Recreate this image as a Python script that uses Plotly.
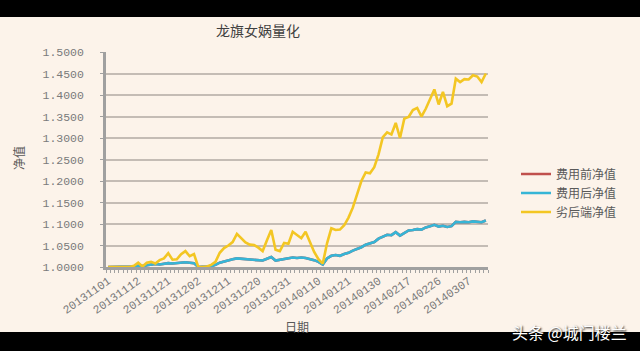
import plotly.graph_objects as go

dates = (
    ["201311%02d" % d for d in [1,4,5,6,7,8,11,12,13,14,15,18,19,20,21,22,25,26,27,28,29]]
    + ["201312%02d" % d for d in [2,3,4,5,6,9,10,11,12,13,16,17,18,19,20,23,24,25,26,27,30,31]]
    + ["201401%02d" % d for d in [2,3,6,7,8,9,10,13,14,15,16,17,20,21,22,23,24,27,28,29,30]]
    + ["201402%02d" % d for d in [7,10,11,12,13,14,17,18,19,20,21,24,25,26,27,28]]
    + ["201403%02d" % d for d in [3,4,5,6,7,10,11,12,13]]
)

after_fee = [
    1.000, 1.000, 1.000, 1.000, 1.000, 1.000, 1.001, 1.003, 1.002, 1.004,
    1.006, 1.007, 1.006, 1.008, 1.009, 1.008, 1.009, 1.010, 1.011, 1.010,
    1.009, 1.000, 1.000, 1.001, 1.002, 1.005, 1.010, 1.013, 1.015, 1.018,
    1.020, 1.019, 1.018, 1.018, 1.017, 1.016, 1.015, 1.019, 1.023, 1.015,
    1.017, 1.019, 1.020, 1.022, 1.021, 1.022, 1.021, 1.019, 1.016, 1.012,
    1.006, 1.020, 1.026, 1.028, 1.026, 1.030, 1.033, 1.038, 1.042, 1.046,
    1.052, 1.055, 1.058, 1.066, 1.071, 1.075, 1.074, 1.081, 1.073, 1.080,
    1.085, 1.086, 1.088, 1.087, 1.092, 1.095, 1.098, 1.094, 1.096, 1.093,
    1.095, 1.105, 1.104, 1.105, 1.104, 1.106, 1.105, 1.104, 1.108,
]
before_fee = list(after_fee)

junior = [
    1.000, 1.000, 1.000, 1.000, 1.000, 1.000, 1.003, 1.010, 1.001, 1.010,
    1.012, 1.008, 1.016, 1.020, 1.032, 1.017, 1.018, 1.030, 1.037, 1.025,
    1.030, 1.000, 1.000, 1.001, 1.005, 1.012, 1.033, 1.044, 1.050, 1.058,
    1.077, 1.066, 1.057, 1.052, 1.051, 1.045, 1.037, 1.062, 1.086, 1.040,
    1.037, 1.056, 1.054, 1.082, 1.075, 1.067, 1.082, 1.060, 1.035, 1.018,
    1.008, 1.055, 1.090, 1.086, 1.087, 1.097, 1.115, 1.138, 1.170, 1.200,
    1.220, 1.218, 1.232, 1.262, 1.302, 1.313, 1.308, 1.335, 1.300, 1.345,
    1.349, 1.365, 1.370, 1.350, 1.368, 1.392, 1.413, 1.378, 1.407, 1.374,
    1.380, 1.438, 1.430, 1.437, 1.436, 1.446, 1.443, 1.430, 1.450,
]

series_names = ["费用前净值", "费用后净值", "劣后端净值"]
series_colors = ["#C0504D", "#36B5D6", "#F3C623"]
tick_step = 7
y_ticks = [1.0, 1.05, 1.1, 1.15, 1.2, 1.25, 1.3, 1.35, 1.4, 1.45, 1.5]

idx = list(range(len(dates)))
tick_idx = idx[::tick_step]
tick_txt = [dates[i] for i in tick_idx]

W, H = 640, 351
L, R, T, B = 106, 488, 52, 267
pw, ph = R - L, B - T

def px(x):
    return (x - L) / pw

def py(y):
    return (B - y) / ph

fig = go.Figure()
for name, col, vals in zip(series_names, series_colors, [before_fee, after_fee, junior]):
    fig.add_trace(go.Scatter(x=idx, y=vals, mode="lines", name=name,
                             line=dict(color=col, width=2.6)))

bg = "#FCF3EA"
gray = "#7A7A7A"
font_cjk = "Noto Sans CJK SC"

fig.update_layout(
    width=W, height=H,
    margin=dict(l=L, r=W - R, t=T, b=H - B),
    paper_bgcolor=bg, plot_bgcolor=bg,
    showlegend=True,
    legend=dict(x=px(516), y=py(193), xanchor="left", yanchor="middle",
                bgcolor="rgba(0,0,0,0)", font=dict(family=font_cjk, size=12, color="#595959"),
                tracegroupgap=0, itemwidth=30),
    title=dict(text="龙旗女娲量化", x=258 / W, xref="container", xanchor="center",
               y=1 - 31.5 / H, yref="container", yanchor="middle",
               font=dict(family=font_cjk, size=14, color="#404040")),
    xaxis=dict(range=[-0.5, len(dates) - 0.5], tickmode="array", tickvals=tick_idx,
               ticktext=tick_txt, tickangle=-35, ticks="", showgrid=False, zeroline=False,
               showline=True, linecolor="#A0A0A0", linewidth=2.5,
               tickfont=dict(family="Liberation Mono", size=11.5, color=gray),
               minor=dict(tickmode="linear", tick0=-0.5, dtick=1, ticks="outside",
                          ticklen=3, tickwidth=1, tickcolor="#A0A0A0", showgrid=False)),
    yaxis=dict(range=[1.0, 1.5], tickvals=y_ticks, tickformat=".4f", ticks="outside",
               ticklen=3, tickcolor="#A0A0A0", showgrid=True, gridcolor="#C4BCB5",
               gridwidth=1.5, zeroline=False, showline=True, linecolor="#A0A0A0",
               linewidth=2.5, ticklabelstandoff=14,
               tickfont=dict(family="Liberation Mono", size=11.5, color=gray)),
    shapes=[
        dict(type="rect", xref="paper", yref="paper", x0=-0.5, x1=1.6,
             y0=py(17), y1=py(-20), fillcolor="black", line=dict(width=0), layer="above"),
        dict(type="rect", xref="paper", yref="paper", x0=-0.5, x1=1.6,
             y0=py(332), y1=py(380), fillcolor="black", line=dict(width=0), layer="above"),
    ],
    annotations=[
        dict(text="日期", xref="paper", yref="paper", x=px(297), y=py(326),
             xanchor="center", yanchor="middle", showarrow=False,
             font=dict(family=font_cjk, size=12, color="#595959")),
        dict(text="净值", xref="paper", yref="paper", x=px(18), y=py(158),
             xanchor="center", yanchor="middle", showarrow=False, textangle=-90,
             font=dict(family=font_cjk, size=12, color="#595959")),
        dict(text="头条 @城门楼兰", xref="paper", yref="paper", x=px(629), y=py(332),
             xanchor="right", yanchor="middle", showarrow=False,
             font=dict(family=font_cjk, size=16, color="white",
                       shadow="1px 1px 2px #000")),
    ],
)

fig.write_html("out.html")
